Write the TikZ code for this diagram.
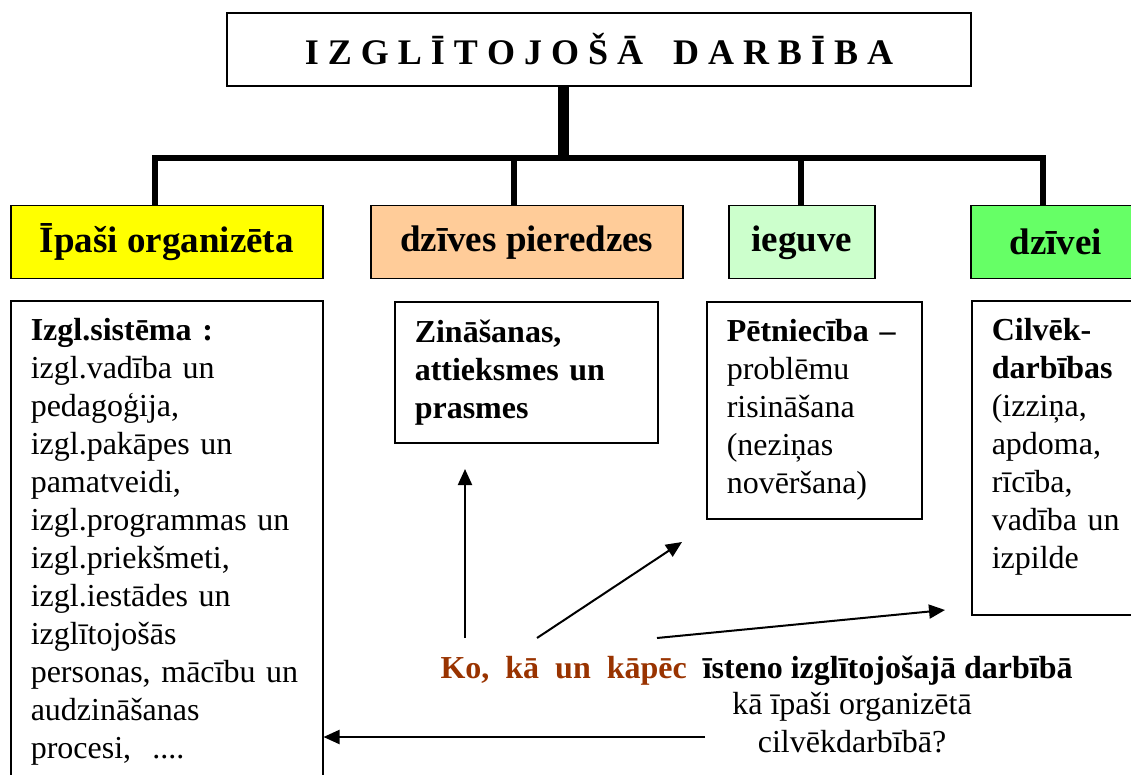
\documentclass[tikz,border=0pt]{standalone}
\usepackage{fontspec}
\setmainfont{Liberation Serif}
\usepackage{xcolor}
\usetikzlibrary{positioning, arrows.meta}

\definecolor{headyellow}{HTML}{FFFF00}
\definecolor{headorange}{HTML}{FFCC99}
\definecolor{headmint}{HTML}{CCFFCC}
\definecolor{headgreen}{HTML}{66FF66}
\definecolor{askbrown}{HTML}{993300}

\begin{document}
\begin{tikzpicture}[
      x=1pt, y=-1pt,
      title/.style   = {draw, line width=1.5pt, minimum width=744pt, minimum height=73pt,
                        font=\fontsize{36}{42}\selectfont\bfseries},
      head/.style    = {draw, line width=1.5pt, anchor=north west, minimum height=73pt,
                        inner sep=0pt, font=\fontsize{37}{44}\selectfont\bfseries},
      content/.style = {draw, line width=1.5pt, anchor=north west, align=left,
                        inner xsep=20pt, inner ysep=18pt, font=\fontsize{32}{38}\selectfont},
      ask/.style     = {font=\fontsize{32}{38}\selectfont, align=center},
      trunk/.style   = {line width=11pt},
      branch/.style  = {line width=6pt},
      pointer/.style = {->, line width=2pt},
      >={Triangle[length=16pt, width=14pt]}
  ]
  \useasboundingbox (0,0) rectangle (1131,775);

  % --- Title ---
  \node[title] (top) at (599,49.5)
        {I Z G L Ī T O J O Š Ā\hspace{30pt}D A R B Ī B A};

  % --- Headings ---
  \node[head, fill=headyellow, minimum width=312pt] (hOrg)  at (10,205)  {Īpaši organizēta};
  \node[head, fill=headorange, minimum width=312pt] (hExp)  at (370,205) {dzīves pieredzes};
  \node[head, fill=headmint,   minimum width=146pt] (hGain) at (728,205) {ieguve};
  \node[head, fill=headgreen,  minimum width=170pt] (hLife) at (970,205) {dzīvei};

  % --- Tree of thick lines ---
  \coordinate (stem) at (563,158);
  \coordinate (d1) at (155,158);
  \coordinate (d2) at (514,158);
  \coordinate (d3) at (801,158);
  \coordinate (d4) at (1043,158);

  \draw[trunk]  (stem |- top.south) -- (stem);
  \draw[branch] ([xshift=-3pt]d1) -- ([xshift=3pt]d4);
  \draw[branch] (d1) -- (d1 |- hOrg.north);
  \draw[branch] (d2) -- (d2 |- hExp.north);
  \draw[branch] (d3) -- (d3 |- hGain.north);
  \draw[branch] (d4) -- (d4 |- hLife.north);

  % --- Content boxes ---
  \node[content, text width=272pt] (sys) at (10,300)
        {\textbf{Izgl.sistēma :}\\
         izgl.vadība un\\
         pedagoģija,\\
         izgl.pakāpes un\\
         pamatveidi,\\
         izgl.programmas un\\
         izgl.priekšmeti,\\
         izgl.iestādes un\\
         izglītojošās\\
         personas, mācību un\\
         audzināšanas\\
         procesi,\ \ ....};

  \node[content, text width=223pt, font=\fontsize{32}{38}\selectfont\bfseries] (know) at (394,301)
        {Zināšanas,\\ attieksmes un\\ prasmes};

  \node[content, text width=175pt] (research) at (706,301)
        {\textbf{Pētniecība –}\\
         problēmu\\
         risināšana\\
         (neziņas\\
         novēršana)};

  \node[content, text width=150pt] (human) at (971,300)
        {\textbf{Cilvēk-}\\
         \textbf{darbības}\\
         (izziņa,\\
         apdoma,\\
         rīcība,\\
         vadība un\\
         izpilde\rule[-28pt]{0pt}{1pt}};

  % --- Question at the bottom ---
  \node[ask, font=\fontsize{32}{38}\selectfont\bfseries, anchor=base west] (q) at (437,678)
        {\textcolor{askbrown}{Ko,\ \ kā\ \ un\ \ kāpēc}\ \ īsteno izglītojošajā darbībā};
  \node[ask, anchor=base] (q2) at (852,752)
        {kā īpaši organizētā\\ cilvēkdarbībā?};

  % --- Pointers ---
  \coordinate (p1s) at (465,638);
  \coordinate (p1e) at (465,469);
  \coordinate (p2s) at (537,638);
  \coordinate (p2e) at (682,542);
  \coordinate (p3s) at (657,638);
  \coordinate (p3e) at (945,610);
  \coordinate (p4s) at (705,737);

  \draw[pointer] (p1s) -- (p1e);
  \draw[pointer] (p2s) -- (p2e);
  \draw[pointer] (p3s) -- (p3e);
  \draw[pointer] (p4s) -- (p4s -| sys.east);

\end{tikzpicture}
\end{document}
